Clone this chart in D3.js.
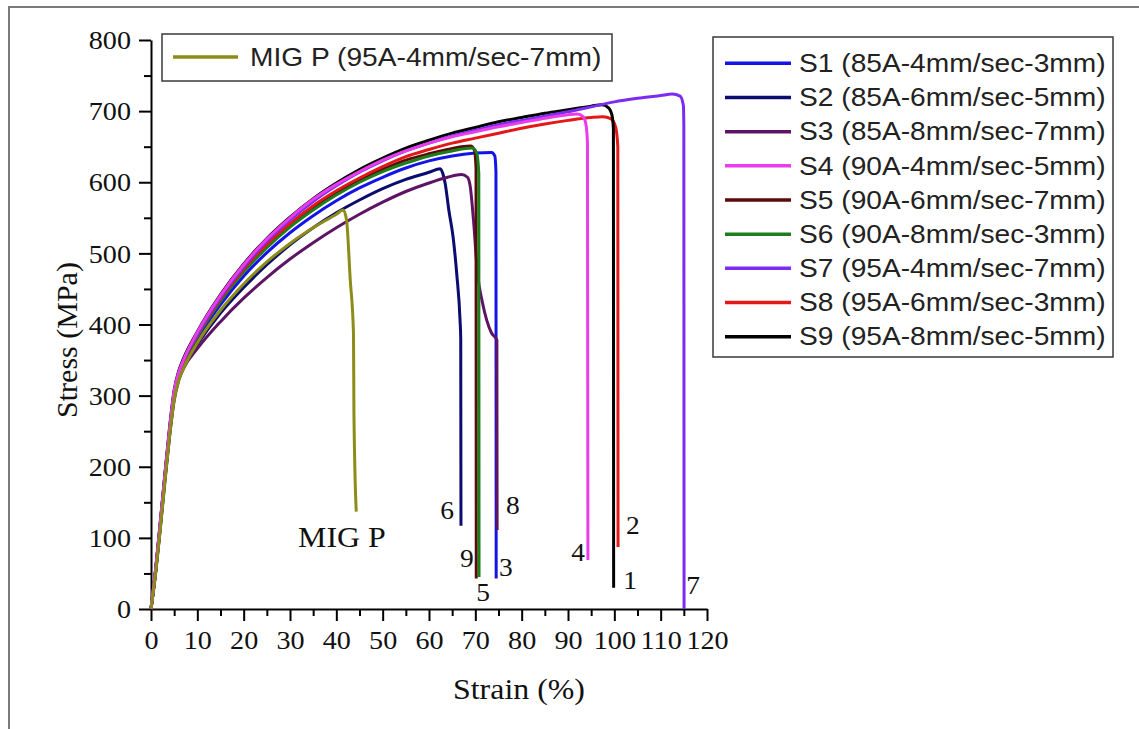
<!DOCTYPE html>
<html><head><meta charset="utf-8">
<script src="https://cdn.jsdelivr.net/npm/d3@7"></script>
<style>body{margin:0;background:#fff}</style>
</head><body>
<svg id="c" width="1139" height="729"></svg>
<script>
// ---------- data ----------
const xMajorTicks = [0,10,20,30,40,50,60,70,80,90,100,110,120];
const xMinorTicks = [5,15,25,35,45,55,65,75,85,95,105,115];
const yMajorTicks = [0,100,200,300,400,500,600,700,800];
const yMinorTicks = [50,150,250,350,450,550,650,750];

const seriesNames = [
  "S1 (85A-4mm/sec-3mm)","S2 (85A-6mm/sec-5mm)","S3 (85A-8mm/sec-7mm)",
  "S4 (90A-4mm/sec-5mm)","S5 (90A-6mm/sec-7mm)","S6 (90A-8mm/sec-3mm)",
  "S7 (95A-4mm/sec-7mm)","S8 (95A-6mm/sec-3mm)","S9 (95A-8mm/sec-5mm)"];
const seriesColors = ["#1414e6","#0b0b70","#5e1464","#ea3cea","#5c0b0b","#1c7f1c","#7b2cf0","#e31818","#000000"];
const migName = "MIG P (95A-4mm/sec-7mm)";
const migColor = "#8c8c18";

// [strain %, stress MPa]
const s1 = [[0,0],[1,53],[2,116],[3,184],[4,247],[5,299],[6,326],[7,343],[10,380],[15,428],[20,468],[25,501],[30,529],[35,553],[40,574],[45,592],[50,607],[55,620],[60,630],[65,637],[70,641],[73.5,642],[74.2,637],[74.45,615],[74.5,43]];
const s2 = [[0,0],[1,52],[2,115],[3,182],[4,245],[5,297],[6,324],[7,341],[10,372],[15,416],[20,452],[25,484],[30,512],[35,536],[40,557],[45,575],[50,591],[55,604],[60,614],[62.4,619],[63,612],[63.5,598],[64.3,560],[65.2,523],[66,470],[66.7,406],[66.85,380],[66.9,117]];
const s3 = [[0,0],[1,51],[2,113],[3,180],[4,242],[5,293],[6,322],[7,338],[10,366],[15,404],[20,437],[25,466],[30,492],[35,515],[40,536],[45,555],[50,572],[55,587],[60,599],[64,607],[67,611],[68.3,607],[68.9,594],[69.6,547],[70.5,470],[71.5,432],[72.5,405],[73.5,388],[74.65,378],[74.7,111]];
const s4 = [[0,0],[1,56],[2,121],[3,189],[4,253],[5,306],[6,333],[7,350],[10,389],[15,441],[20,484],[25,520],[30,550],[35,576],[40,597],[45,615],[50,631],[55,644],[60,655],[65,664],[70,671],[75,678],[80,684],[85,690],[90,695],[92,696],[93.3,692],[93.9,680],[94.2,655],[94.3,69]];
const s5 = [[0,0],[1,54],[2,119],[3,186],[4,250],[5,302],[6,330],[7,347],[10,384],[15,434],[20,476],[25,510],[30,539],[35,564],[40,585],[45,603],[50,618],[55,631],[60,640],[64,646],[67,650],[69,651],[69.8,645],[70.15,620],[70.2,43]];
const s6 = [[0,0],[1,54],[2,118],[3,185],[4,249],[5,301],[6,329],[7,346],[10,383],[15,433],[20,474],[25,508],[30,537],[35,561],[40,582],[45,600],[50,615],[55,627],[60,637],[65,644],[69.3,648],[70.3,641],[70.75,612],[70.8,45]];
const s7 = [[0,0],[1,55],[2,120],[3,188],[4,252],[5,305],[6,332],[7,349],[10,386],[15,438],[20,481],[25,517],[30,547],[35,573],[40,595],[45,614],[50,630],[55,644],[60,655],[65,665],[70,673],[75,681],[80,687],[85,693],[90,699],[95,706],[100,713],[105,718],[110,722],[112.5,724],[114.2,721],[114.9,708],[115,680],[115.05,0]];
const s8 = [[0,0],[1,54],[2,119],[3,187],[4,251],[5,303],[6,331],[7,348],[10,385],[15,436],[20,478],[25,513],[30,542],[35,567],[40,588],[45,606],[50,622],[55,636],[60,646],[65,655],[70,662],[75,669],[80,676],[85,682],[90,687],[95,691],[97.5,692],[99.3,689],[100.3,677],[100.75,650],[100.8,87]];
const s9 = [[0,0],[1,56],[2,122],[3,190],[4,255],[5,308],[6,335],[7,352],[10,390],[15,442],[20,485],[25,521],[30,551],[35,577],[40,599],[45,618],[50,634],[55,648],[60,659],[65,669],[70,677],[75,685],[80,691],[85,697],[90,702],[95,707],[97.3,709],[98.7,705],[99.5,694],[99.8,675],[99.85,30]];
const mig = [[0,0],[1,50],[2,112],[3,178],[4,242],[5,294],[6,322],[7,338],[10,374],[15,420],[20,457],[25,488],[30,514],[35,536],[40,555],[41.5,561],[42.2,547],[43,463],[43.7,388],[43.8,276],[44.3,137]];

const curveLabels = ["6","8","9","3","5","4","2","1","7"];
const curveLabelX = [63.9,78.1,68.2,76.6,71.7,92.2,104.0,103.4,117.0];
const curveLabelY = [139,146,72,58,24,80,118,41,34];
const migLabel = "MIG P";
const migLabelX = 41.2, migLabelY = 101;

const xTitle = "Strain (%)";
const yTitle = "Stress (MPa)";

// ---------- drawing ----------
const svg = d3.select("#c");
const STRETCH = 1.1;
const serif = "'Liberation Serif','Times New Roman',serif";
const sans = "'Liberation Sans',Arial,sans-serif";

// outer frame lines (cropped border)
svg.append("line").attr("x1",8).attr("y1",7).attr("x2",1139).attr("y2",7).attr("stroke","#7a7a7a").attr("stroke-width",2);
svg.append("line").attr("x1",9).attr("y1",7).attr("x2",9).attr("y2",729).attr("stroke","#7a7a7a").attr("stroke-width",2);

const x = d3.scaleLinear().domain([0,120]).range([151,707]);
const y = d3.scaleLinear().domain([0,800]).range([609,40]);

// axes
svg.append("g").attr("transform","translate(0,609)")
  .call(d3.axisBottom(x).tickValues(xMajorTicks).tickSize(12).tickSizeOuter(0).tickPadding(10).tickFormat(d3.format("d")));
svg.append("g").attr("transform","translate(0,609)")
  .call(d3.axisBottom(x).tickValues(xMinorTicks).tickSize(7).tickSizeOuter(0).tickFormat(""))
  .call(g=>g.select(".domain").remove());
const gy = svg.append("g").attr("transform","translate(151,0)")
  .call(d3.axisLeft(y).tickValues(yMajorTicks).tickSize(12).tickSizeOuter(0).tickPadding(8).tickFormat(d3.format("d")));
svg.append("g").attr("transform","translate(151,0)")
  .call(d3.axisLeft(y).tickValues(yMinorTicks).tickSize(7).tickSizeOuter(0).tickFormat(""))
  .call(g=>g.select(".domain").remove());

svg.selectAll(".domain").attr("stroke","#000").attr("stroke-width",2);
svg.selectAll(".tick line").attr("stroke","#000").attr("stroke-width",2);
svg.selectAll(".tick text").attr("font-family",serif).attr("font-size",25.6).attr("fill","#111").classed("st",true);
gy.selectAll(".tick text").attr("dy","0.34em");

// curves
const line = d3.line().x(d=>x(d[0])).y(d=>y(d[1])).curve(d3.curveMonotoneX);
const seriesData = [s1,s2,s3,s4,s5,s6,s7,s8,s9];
const drawOrder = [0,1,2,4,5,7,8,6,3];
const gc = svg.append("g");
drawOrder.forEach(i=>{
  gc.append("path").datum(seriesData[i]).attr("d",line)
    .attr("fill","none").attr("stroke",seriesColors[i]).attr("stroke-width",3)
    .attr("stroke-linejoin","round").attr("stroke-linecap","butt");
});
gc.append("path").datum(mig).attr("d",line)
  .attr("fill","none").attr("stroke",migColor).attr("stroke-width",3)
  .attr("stroke-linejoin","round");

// curve labels
svg.selectAll(".clab").data(curveLabels).enter().append("text")
  .attr("x",(d,i)=>x(curveLabelX[i])).attr("y",(d,i)=>y(curveLabelY[i]))
  .attr("dy","0.35em").attr("text-anchor","middle")
  .attr("font-family",serif).attr("font-size",25).attr("fill","#111")
  .classed("st",true).text(d=>d);
svg.append("text").attr("x",x(migLabelX)).attr("y",y(migLabelY)).attr("dy","0.35em")
  .attr("text-anchor","middle").attr("font-family",serif).attr("font-size",29).attr("fill","#111")
  .classed("st",true).text(migLabel);

// axis titles
svg.append("text").attr("x",519).attr("y",699).attr("text-anchor","middle")
  .attr("font-family",serif).attr("font-size",29).attr("fill","#111").classed("st",true).text(xTitle);
svg.append("text").attr("transform","translate(77,340) rotate(-90)").attr("text-anchor","middle")
  .attr("font-family",serif).attr("font-size",30).attr("fill","#111").text(yTitle);

// MIG legend
svg.append("rect").attr("x",162).attr("y",34).attr("width",450).attr("height",47)
  .attr("fill","#fff").attr("stroke","#3a3a3a").attr("stroke-width",1.5);
svg.append("line").attr("x1",173).attr("x2",238).attr("y1",57).attr("y2",57)
  .attr("stroke",migColor).attr("stroke-width",3.5);
svg.append("text").attr("x",250).attr("y",65.5).attr("font-family",sans).attr("font-size",25.6)
  .attr("fill","#222").classed("st",true).text(migName);

// series legend
svg.append("rect").attr("x",713).attr("y",37).attr("width",400).attr("height",320)
  .attr("fill","#fff").attr("stroke","#3a3a3a").attr("stroke-width",1.5);
const ly = d3.scaleLinear().domain([0,8]).range([63.3,336.7]);
const lg = svg.append("g");
seriesNames.forEach((n,i)=>{
  lg.append("line").attr("x1",725).attr("x2",791).attr("y1",ly(i)).attr("y2",ly(i))
    .attr("stroke",seriesColors[i]).attr("stroke-width",3.5);
  lg.append("text").attr("x",799).attr("y",ly(i)+8.7).attr("font-family",sans).attr("font-size",25.6)
    .attr("fill","#222").classed("st",true).text(n);
});

// horizontal stretch of texts to match the reference's aspect
svg.selectAll("text.st").each(function(){
  const w = this.getComputedTextLength();
  d3.select(this).attr("textLength", w*STRETCH).attr("lengthAdjust","spacingAndGlyphs");
});
</script>
</body></html>
